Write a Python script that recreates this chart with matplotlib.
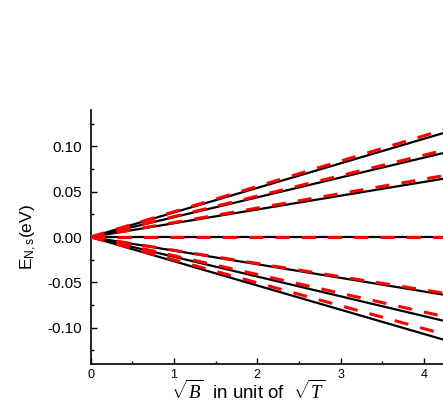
import numpy as np
import matplotlib
matplotlib.use("Agg")
import matplotlib.pyplot as plt
from matplotlib.ticker import MultipleLocator, FormatStrFormatter

plt.rcParams['font.family'] = ['Liberation Sans', 'DejaVu Sans']
plt.rcParams['mathtext.fontset'] = 'custom'
plt.rcParams['mathtext.rm'] = 'Liberation Sans'
plt.rcParams['mathtext.it'] = 'Liberation Serif:italic'

# sqrt(B) endpoints (line starts at origin, read at right edge)
sqrtB = [0.0, 4.23]
# Energy values at the right edge for each level (eV)
black_end = [0.1145, 0.0925, 0.0642, 0.0, -0.0635, -0.0922, -0.113]
red_end = [0.118, 0.0954, 0.0675, 0.0, -0.0617, -0.0874, -0.1068]

xticks = [0, 1, 2, 3, 4]
yticks = [-0.10, -0.05, 0.00, 0.05, 0.10]

fig = plt.figure(figsize=(4.43, 4.15), dpi=100)
ax = fig.add_axes([0.2047, 0.1229, 0.7953, 0.612])

for e in black_end:
    ax.plot(sqrtB, [0.0, e], color='black', lw=1.6, solid_capstyle='butt', zorder=2)
for e in red_end:
    ax.plot(sqrtB, [0.0, e], color='#ff0000', lw=2.2, linestyle=(0, (4.6, 4.0)),
            dash_capstyle='butt', zorder=3)

ax.set_xlim(0, 4.23)
ax.set_ylim(-0.14, 0.14)
ax.set_xticks(xticks)
ax.set_yticks(yticks)
ax.xaxis.set_minor_locator(MultipleLocator(0.5))
ax.yaxis.set_minor_locator(MultipleLocator(0.025))
ax.yaxis.set_major_formatter(FormatStrFormatter('%.2f'))

for s in ['top', 'right']:
    ax.spines[s].set_visible(False)
for s in ['left', 'bottom']:
    ax.spines[s].set_linewidth(1.2)

ax.tick_params(axis='both', which='both', direction='in', width=1.0)
ax.tick_params(axis='both', which='major', length=4.5)
ax.tick_params(axis='both', which='minor', length=2.5)
ax.tick_params(axis='y', which='major', labelsize=11, pad=6)
ax.tick_params(axis='x', which='major', labelsize=9, pad=3.5)

ax.set_ylabel(r'E$_{\mathrm{N,s}}$(eV)', fontsize=12.5)
ax.yaxis.set_label_coords(-0.15, 0.5)
ax.set_xlabel(r'$\sqrt{B}$  in unit of  $\sqrt{T}$', fontsize=13.5)
ax.xaxis.set_label_coords(0.4465, -0.062)

fig.savefig('out.png', dpi=100)
